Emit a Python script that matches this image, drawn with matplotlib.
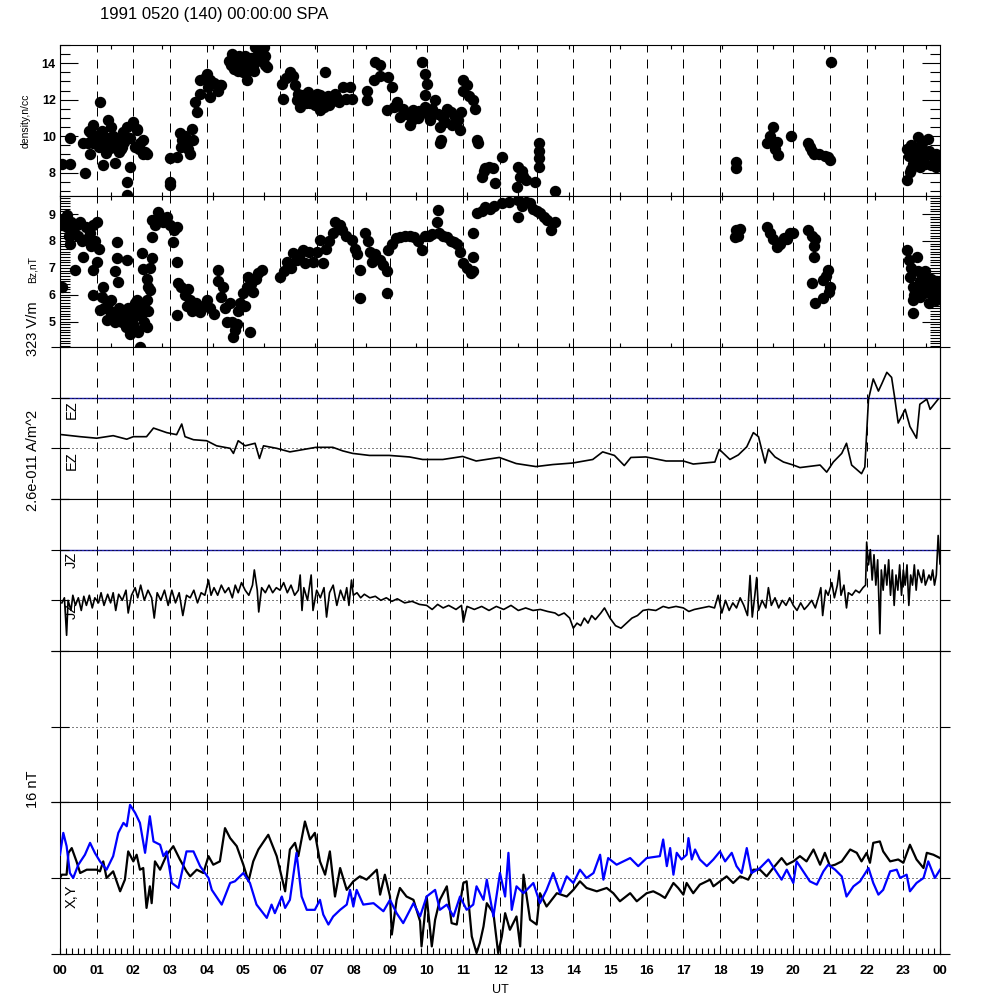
import numpy as np
import matplotlib.pyplot as plt
import matplotlib.transforms as mtransforms
from matplotlib.ticker import MultipleLocator, FixedLocator

plt.rcParams['font.family'] = ['Liberation Sans', 'DejaVu Sans']

# density, n/cc  (UT hours, value)
dens_t = [0.05, 0.27, 0.27, 0.64, 0.68, 0.82, 0.91, 1.09, 0.77, 0.85, 0.95, 1.0, 1.05, 1.1,
          1.15, 1.2, 1.25, 1.32, 1.3, 1.4, 1.45, 1.5, 1.18, 1.55, 1.6, 1.65, 1.73, 1.75,
          1.82, 1.82, 1.91, 1.82, 1.91, 2.0, 2.09, 2.05, 2.1, 2.18, 2.32, 2.27, 2.36, 1.36,
          0.8, 0.9, 1.02, 1.15, 1.35, 1.45, 1.6, 1.7, 2.15, 2.25,
          3.0, 3.0, 3.0, 3.18, 3.27, 3.32, 3.45, 3.59, 3.55, 3.64, 3.73, 3.68, 3.82, 3.82,
          3.3, 3.4, 3.5, 3.95, 4.05, 4.2, 4.3,
          4.0, 4.1, 4.1, 4.36, 4.4, 4.65, 4.73, 4.75, 4.8, 4.85, 4.9, 4.95, 5.0, 5.09, 5.09,
          5.15, 5.2, 5.27, 5.32, 5.4, 5.45, 5.55, 5.6,
          4.62, 4.7, 4.78, 4.88, 4.98, 5.05, 5.12, 5.22, 5.3, 5.38, 5.48, 5.58, 5.65,
          6.05, 6.09, 6.15, 6.27, 6.35, 6.41, 6.45, 6.55, 6.6, 6.64, 6.7, 6.8, 6.82, 6.9,
          7.0, 7.09, 7.09, 7.15, 7.2, 7.23, 7.3, 7.4, 7.45, 7.5,
          6.5, 6.75, 6.95, 7.05, 7.35, 7.55, 7.6,
          7.73, 7.9, 7.8, 7.95, 8.36, 8.36,
          8.55, 8.59, 8.73, 8.73, 8.95, 9.05, 8.91, 9.18, 9.27, 9.1, 9.35,
          9.45, 9.55, 9.64, 9.75, 9.86, 9.95, 10.05, 10.09, 10.23, 10.3, 10.36, 10.45, 10.55,
          10.65, 10.77, 10.9, 10.95, 10.85, 9.86, 9.95, 10.0, 9.95, 10.36, 10.4,
          9.6, 9.8, 10.15, 10.5, 10.7,
          11.0, 11.0, 11.1, 11.15, 11.27, 11.32, 11.36, 11.4,
          11.5, 11.55, 11.59, 11.7, 11.82, 11.86, 12.05, 12.45, 12.5, 12.55, 12.64, 12.6,
          12.7, 12.95, 13.05, 13.05, 13.05, 13.07, 13.5,
          18.45, 18.45, 19.27, 19.35, 19.45, 19.55, 19.59, 19.5, 19.95, 20.4, 20.45, 20.5,
          20.55, 20.7, 20.85, 20.95, 21.0, 21.02,
          23.1, 23.18, 23.41, 23.68, 23.1, 23.15, 23.2, 23.3, 23.35, 23.4, 23.5, 23.55, 23.6,
          23.65, 23.75, 23.8, 23.85, 23.9, 23.95, 24.0, 23.25, 23.45,
          23.2, 23.35, 23.5, 23.7, 23.9]
dens_v = [8.47, 9.88, 8.47, 9.6, 8.0, 9.05, 10.6, 11.87, 9.6, 10.15, 9.78, 9.96, 9.42, 10.1,
          10.3, 9.6, 9.1, 10.87, 9.9, 10.5, 9.4, 8.55, 8.42, 9.8, 9.14, 9.3, 10.24, 9.7,
          10.51, 7.5, 8.33, 6.8, 9.9, 10.78, 10.33, 9.4, 10.42, 9.6, 9.14, 9.8, 9.05, 9.33,
          10.3, 9.6, 10.0, 9.4, 9.6, 10.0, 9.9, 9.4, 9.3, 9.0,
          8.78, 7.5, 7.35, 8.87, 10.2, 9.78, 9.6, 10.4, 9.05, 9.8, 11.3, 11.87, 12.33, 13.06,
          9.4, 10.0, 9.3, 13.2, 12.7, 12.9, 12.5,
          13.42, 13.06, 12.14, 12.78, 12.78, 13.9, 14.33, 13.7, 13.9, 13.6, 14.2, 13.8, 13.5,
          13.6, 13.06, 14.0, 13.7, 13.8, 14.87, 14.5, 14.2, 14.9, 13.9,
          14.1, 14.5, 14.0, 14.4, 14.1, 14.4, 13.8, 14.3, 13.6, 14.1, 14.6, 14.4, 13.8,
          12.87, 12.05, 13.2, 13.5, 13.3, 12.78, 12.0, 11.6, 12.2, 12.24, 11.8, 11.9, 11.8,
          12.1, 12.3, 11.42, 12.24, 12.0, 11.6, 13.5, 12.2, 11.9, 12.0, 12.3,
          12.3, 12.4, 11.7, 12.0, 11.7, 12.1, 11.9,
          12.7, 12.69, 12.05, 12.05, 12.5, 12.0,
          13.1, 14.05, 13.9, 13.3, 13.24, 12.7, 11.42, 11.87, 11.05, 11.6, 11.5,
          11.2, 10.6, 11.42, 11.0, 11.3, 11.6, 11.1, 10.87, 11.96, 11.2, 10.5, 11.0, 11.5,
          11.3, 11.05, 10.33, 11.33, 10.9, 14.05, 13.42, 12.87, 12.24, 9.6, 9.8,
          10.9, 11.4, 11.5, 10.8, 10.6,
          13.06, 12.5, 12.8, 12.2, 11.96, 11.5, 9.78, 9.6,
          7.78, 8.1, 8.24, 8.3, 8.24, 7.42, 8.87, 7.24, 8.33, 7.78, 7.8, 8.1,
          7.6, 7.5, 8.33, 8.8, 9.2, 9.6, 7.0,
          8.6, 8.24, 9.6, 10.0, 10.5, 9.7, 8.96, 9.3, 10.0, 9.6, 9.42, 9.2,
          9.05, 9.0, 8.9, 8.87, 8.7, 14.07,
          7.6, 8.05, 9.96, 9.87, 9.3, 8.9, 9.5, 9.1, 8.6, 9.4, 8.8, 9.2, 8.5,
          9.0, 8.4, 8.9, 8.6, 8.3, 8.7, 8.5, 8.5, 8.3,
          8.2, 9.2, 9.6, 9.2, 9.0]

# Bz, nT
bz_t = [0.05, 0.05, 0.1, 0.18, 0.2, 0.25, 0.27, 0.3, 0.35, 0.41, 0.45, 0.5, 0.55, 0.6, 0.64,
        0.7, 0.75, 0.82, 0.85, 0.9, 0.91, 0.95, 1.0, 1.0, 1.05,
        0.91, 1.09, 1.18, 1.15, 1.2, 1.27, 1.35, 1.4, 1.45, 1.55, 1.6, 1.7, 1.75, 1.8, 1.85,
        1.91, 1.95, 2.0, 2.05, 2.09, 2.09, 2.14, 2.18, 2.2, 2.25, 2.3, 2.36, 2.36, 2.4, 2.45,
        1.3, 1.5, 1.65, 1.9, 2.0, 2.15, 2.3,
        1.55, 1.55, 1.5, 1.59, 1.82, 2.23, 2.5, 2.27, 2.36, 2.45, 2.4,
        2.5, 2.5, 2.6, 2.68, 2.75, 2.8, 2.91, 3.0, 3.09, 3.1, 3.18, 3.18,
        3.23, 3.18, 3.3, 3.4, 3.5, 3.45, 3.55, 3.6, 3.7, 3.82, 3.9, 4.0, 4.1, 4.2, 4.32, 4.3,
        4.4, 4.45, 4.5, 4.55,
        4.64, 4.7, 4.73, 4.78, 4.82, 4.85, 4.9, 5.0, 5.05, 5.1, 5.14, 5.18, 5.2, 5.27, 5.35,
        5.4, 5.5,
        6.0, 6.1, 6.2, 6.3, 6.36, 6.45, 6.55, 6.64, 6.68, 6.8, 6.91, 7.0, 7.09, 7.18, 7.25,
        7.35, 7.45,
        7.5, 7.6, 7.64, 7.7, 7.8, 7.95, 8.05, 8.1, 8.18, 8.18, 8.32, 8.4, 8.45, 8.5, 8.6,
        8.73, 8.8, 8.91, 8.91, 8.95, 9.05, 9.15,
        9.27, 9.4, 9.55, 9.65, 9.75, 9.86, 9.95, 10.05, 10.14, 10.27, 10.32, 10.35, 10.45,
        10.55, 10.65, 10.75, 10.82, 10.9, 11.0, 11.1, 11.2, 11.27, 11.27, 11.27,
        11.36, 11.5, 11.6, 11.73, 11.85, 12.05, 12.25, 12.5, 12.5, 12.6, 12.7, 12.82, 12.9,
        13.0, 13.09, 13.2, 13.27, 13.4, 13.5,
        18.41, 18.45, 18.5, 18.55, 19.27, 19.35, 19.45, 19.55, 19.65, 19.75, 19.82, 19.9,
        20.0, 20.41, 20.5, 20.59, 20.55, 20.55, 20.5, 20.59, 20.82, 20.82, 20.9, 20.95, 21.0,
        20.98,
        23.09, 23.15, 23.2, 23.18, 23.25, 23.27, 23.27, 23.36, 23.4, 23.45, 23.5, 23.55,
        23.59, 23.65, 23.7, 23.75, 23.8, 23.85, 23.9, 23.95, 24.0, 23.6, 23.3,
        23.45, 23.7, 23.9, 24.0, 23.55]
bz_v = [6.3, 8.6, 8.8, 8.96, 8.5, 8.2, 7.9, 8.7, 8.4, 6.92, 8.6, 8.2, 8.7, 8.0, 7.4,
        8.5, 8.1, 8.3, 7.8, 8.6, 6.92, 8.0, 8.7, 7.2, 7.7,
        6.0, 5.43, 6.3, 5.9, 5.5, 5.06, 5.4, 5.8, 5.2, 5.2, 5.5, 5.0, 5.3, 4.8, 5.5,
        4.56, 5.1, 5.3, 5.7, 4.7, 5.8, 4.6, 4.07, 5.2, 5.5, 5.0, 4.81, 5.8, 5.4, 6.17,
        5.7, 5.0, 5.4, 5.3, 4.9, 5.5, 5.6,
        7.97, 7.35, 6.9, 6.48, 7.29, 7.54, 7.35, 6.96, 6.6, 7.0, 6.3,
        8.78, 8.16, 8.6, 9.08, 8.9, 8.7, 8.9, 8.6, 7.97, 8.4, 8.53, 7.23,
        6.42, 5.25, 6.3, 6.0, 6.2, 5.6, 5.8, 5.4, 5.7, 5.37, 5.6, 5.8, 5.5, 5.3, 6.92, 6.5,
        5.9, 6.3, 5.5, 5.0,
        5.68, 5.0, 4.44, 4.7, 4.9, 5.4, 5.7, 6.05, 5.6, 6.3, 6.67, 4.62, 6.4, 6.1, 6.6,
        6.8, 6.92,
        6.67, 6.9, 7.2, 7.0, 7.54, 7.3, 7.5, 7.66, 7.17, 7.6, 7.2, 7.6, 8.03, 7.17, 7.7,
        8.0, 8.3,
        8.7, 8.6, 8.6, 8.4, 8.2, 8.03, 7.7, 7.5, 6.92, 5.87, 8.28, 8.0, 7.6, 7.2, 7.5,
        7.29, 7.1, 6.9, 6.05, 7.66, 7.9, 8.1,
        8.16, 8.2, 8.2, 8.15, 8.0, 7.66, 8.18, 8.2, 8.25, 8.7, 9.15, 8.3, 8.2,
        8.15, 8.0, 7.95, 7.9, 7.6, 7.17, 7.0, 6.8, 6.9, 7.4, 8.28,
        9.02, 9.1, 9.25, 9.2, 9.3, 9.4, 9.45, 9.52, 8.9, 9.3, 9.45, 9.4, 9.2,
        9.1, 9.03, 8.9, 8.78, 8.4, 8.7,
        8.16, 8.4, 8.2, 8.45, 8.53, 8.3, 8.06, 7.78, 7.9, 8.1, 8.06, 8.3,
        8.28, 8.4, 8.2, 8.06, 7.8, 7.41, 6.45, 5.68, 5.87, 6.56, 6.7, 6.92, 6.3,
        6.1,
        7.66, 7.3, 7.0, 6.67, 6.3, 5.8, 5.33, 7.41, 6.9, 6.5, 6.2, 6.05,
        6.9, 6.4, 6.1, 6.6, 6.0, 6.3, 6.5, 6.1, 6.4, 6.7, 6.0,
        5.9, 5.7, 5.8, 6.1, 6.4]

# EZ, in units of 323 V/m (0 = dotted line, 1 = blue line)
ez_t = [0.05, 0.55, 1.0, 1.45, 1.82, 2.0, 2.36, 2.55, 2.91, 3.18, 3.32, 3.41, 3.64, 4.0,
        4.27, 4.64, 4.73, 4.86, 5.05, 5.32, 5.44, 5.55, 5.91, 6.27, 6.98, 7.44, 7.71, 7.98,
        8.44, 8.98, 9.53, 9.89, 10.44, 10.98, 11.35, 11.98, 12.44, 12.98, 13.44, 13.98,
        14.53, 14.8, 15.12, 15.39, 15.57, 15.98, 16.53, 17.0, 17.27, 17.86, 17.98, 18.14,
        18.27, 18.5, 18.73, 18.91, 19.05, 19.23, 19.32, 19.5, 19.73, 20.0, 20.18, 20.73,
        20.91, 21.09, 21.32, 21.45, 21.59, 21.86, 21.95, 22.05, 22.18, 22.32, 22.41, 22.55,
        22.68, 22.77, 22.86, 23.05, 23.18, 23.36, 23.45, 23.64, 23.73, 23.95]
ez_v = [0.27, 0.23, 0.2, 0.25, 0.18, 0.23, 0.23, 0.4, 0.31, 0.27, 0.48, 0.23, 0.17, 0.15,
        0.05, 0.0, -0.1, 0.15, 0.05, 0.1, -0.2, 0.05, 0.0, -0.07, 0.02, 0.02, -0.05, -0.1,
        -0.14, -0.14, -0.17, -0.22, -0.22, -0.16, -0.25, -0.18, -0.3, -0.36, -0.32, -0.29,
        -0.22, -0.07, -0.14, -0.34, -0.18, -0.17, -0.25, -0.25, -0.31, -0.27, -0.02, -0.13,
        -0.22, -0.13, 0.03, 0.31, 0.23, -0.29, -0.02, -0.17, -0.27, -0.33, -0.38, -0.33,
        -0.47, -0.27, -0.1, 0.1, -0.33, -0.5, -0.37, 0.97, 1.37, 1.13, 1.27, 1.5,
        1.4, 0.97, 0.5, 0.77, 0.43, 0.2, 0.87, 0.97, 0.77, 0.97]

# JZ, in units of 2.6e-011 A/m^2
jz_t = [0.05, 0.12, 0.18, 0.22, 0.3, 0.35, 0.42, 0.5, 0.58, 0.65, 0.72, 0.8, 0.88, 0.95,
        1.05, 1.12, 1.2, 1.3, 1.38, 1.45, 1.52, 1.6, 1.7, 1.8, 1.86, 1.95, 2.05, 2.12, 2.2,
        2.3, 2.4, 2.5, 2.57, 2.65, 2.75, 2.85, 2.95, 3.05, 3.15, 3.25, 3.35, 3.45, 3.55,
        3.65, 3.75, 3.85, 3.95, 4.05, 4.12, 4.2, 4.3, 4.4, 4.5, 4.6, 4.7, 4.78, 4.86, 4.95,
        5.05, 5.15, 5.25, 5.3, 5.38, 5.42, 5.5, 5.6, 5.7, 5.8, 5.9, 6.0, 6.1, 6.2, 6.3, 6.4,
        6.5, 6.55, 6.6, 6.65, 6.75, 6.85, 6.9, 7.0, 7.1, 7.2, 7.27, 7.35, 7.45, 7.55, 7.65,
        7.75, 7.82, 7.88, 7.95, 8.0, 8.1, 8.2, 8.3, 8.45, 8.6, 8.75, 8.9, 9.05, 9.2, 9.4,
        9.6, 9.8, 10.0, 10.15, 10.3, 10.45, 10.6, 10.8, 10.95, 11.0, 11.1, 11.3, 11.5, 11.7,
        11.9, 12.1, 12.3, 12.5, 12.7, 12.9, 13.1, 13.3, 13.5, 13.6, 13.75, 13.9, 14.0, 14.1,
        14.2, 14.3, 14.4, 14.5, 14.6, 14.75, 14.85, 15.0, 15.15, 15.3, 15.45, 15.6, 15.75,
        15.9, 16.05, 16.25, 16.45, 16.6, 16.8, 17.0, 17.15, 17.3, 17.5, 17.7, 17.85, 17.95,
        18.05, 18.15, 18.25, 18.35, 18.45, 18.55, 18.65, 18.75, 18.82, 18.88, 18.95, 19.0,
        19.05, 19.15, 19.25, 19.32, 19.4, 19.5, 19.6, 19.7, 19.8, 19.9, 20.0, 20.1, 20.2,
        20.3, 20.4, 20.5, 20.6, 20.7, 20.75, 20.8, 20.88, 20.95, 21.05, 21.12, 21.2, 21.25,
        21.3, 21.38, 21.45, 21.5, 21.6, 21.7, 21.8, 21.9, 21.97, 22.0, 22.05, 22.1, 22.15,
        22.2, 22.25, 22.3, 22.36, 22.4, 22.45, 22.5, 22.55, 22.6, 22.65, 22.7, 22.75, 22.8,
        22.85, 22.9, 22.95, 23.0, 23.05, 23.1, 23.15, 23.2, 23.25, 23.3, 23.35, 23.4, 23.5,
        23.55, 23.6, 23.7, 23.75, 23.8, 23.85, 23.9, 23.95, 24.0]
jz_v = [-0.05, 0.05, -0.69, 0.0, -0.2, 0.1, -0.1, 0.05, -0.2, 0.08, -0.1, 0.1, -0.15, 0.05,
        -0.05, 0.15, -0.1, 0.12, -0.05, 0.15, -0.2, 0.12, 0.0, 0.2, -0.25, 0.1, 0.25, 0.05, 0.3,
        0.0, 0.2, 0.05, -0.35, 0.15, 0.0, 0.2, -0.1, 0.2, -0.05, 0.15, -0.3, 0.1, 0.05,
        0.2, -0.05, 0.15, 0.1, 0.4, 0.1, 0.25, 0.1, 0.3, 0.15, 0.25, 0.05, 0.3, 0.15, 0.35,
        0.2, 0.1, 0.3, 0.6, 0.2, -0.23, 0.25, 0.15, 0.3, 0.15, 0.25, 0.2, 0.35, 0.15, 0.3, 0.1,
        0.2, 0.5, -0.2, 0.25, 0.0, 0.5, -0.2, 0.2, 0.05, 0.25, -0.33, 0.15, 0.3, -0.1, 0.2,
        0.0, 0.25, -0.1, 0.4, 0.1, 0.15, 0.05, 0.12, 0.05, 0.08, 0.0, 0.05, -0.02, 0.03, -0.05,
        -0.02, -0.08, -0.1, -0.18, -0.08, -0.15, -0.1, -0.18, -0.1, -0.43, -0.12, -0.18, -0.12, -0.2,
        -0.12, -0.18, -0.1, -0.2, -0.15, -0.2, -0.18, -0.22, -0.25, -0.3, -0.25, -0.35, -0.55, -0.45,
        -0.5, -0.35, -0.45, -0.3, -0.38, -0.25, -0.15, -0.35, -0.5, -0.55, -0.45, -0.35, -0.3,
        -0.2, -0.18, -0.2, -0.12, -0.15, -0.12, -0.15, -0.22, -0.18, -0.15, -0.12, -0.15, 0.1,
        -0.25, 0.0, -0.2, -0.05, -0.15, 0.05, -0.1, -0.3, 0.49, -0.33, 0.1, 0.45,
        -0.2, 0.0, -0.15, 0.25, -0.1, 0.05, -0.15, 0.0, -0.1, 0.05, -0.1, -0.2, -0.05,
        -0.18, -0.1, 0.0, -0.15, 0.1, 0.25, -0.3, 0.2, 0.1, 0.35, 0.05, 0.3, 0.59,
        0.1, 0.3, -0.15, 0.15, 0.1, 0.2, 0.15, 0.25, 0.3, 1.15, 0.7, 1.0, 0.4,
        0.9, 0.3, 0.8, -0.66, 0.6, 0.2, 0.7, 0.3, 0.8, 0.1, 0.6, -0.1, 0.5,
        0.2, 0.7, 0.1, 0.6, 0.3, 0.7, -0.1, 0.5, 0.3, 0.7, 0.2, 0.6, 0.35,
        0.6, 0.3, 0.5, 0.4, 0.6, 0.3, 0.5, 1.28, 0.72]

# X component, nT (black)
bx_t = [0.0, 0.05, 0.18, 0.23, 0.32, 0.45, 0.55, 0.73, 1.0, 1.09, 1.18, 1.27, 1.45, 1.64,
        1.77, 1.86, 2.0, 2.09, 2.18, 2.27, 2.36, 2.45, 2.5, 2.59, 2.73, 2.91, 3.09, 3.27,
        3.45, 3.55, 3.73, 3.91, 4.05, 4.18, 4.36, 4.5, 4.64, 4.82, 5.0, 5.14, 5.27, 5.41,
        5.68, 5.91, 6.14, 6.27, 6.41, 6.5, 6.68, 6.82, 6.95, 7.09, 7.23, 7.36, 7.5, 7.64,
        7.82, 8.0, 8.18, 8.36, 8.64, 8.73, 8.86, 9.0, 9.05, 9.18, 9.27, 9.45, 9.64, 9.82,
        9.86, 10.0, 10.14, 10.23, 10.36, 10.55, 10.68, 10.82, 11.0, 11.09, 11.23, 11.36,
        11.45, 11.55, 11.64, 11.82, 11.95, 12.05, 12.14, 12.27, 12.45, 12.55, 12.64, 12.82,
        13.0, 13.09, 13.27, 13.55, 13.82, 14.0, 14.18, 14.36, 14.64, 14.91, 15.09, 15.27,
        15.55, 15.73, 16.0, 16.18, 16.36, 16.5, 16.73, 16.86, 17.0, 17.09, 17.27, 17.45,
        17.73, 17.82, 18.0, 18.18, 18.36, 18.55, 18.77, 18.91, 19.09, 19.27, 19.45, 19.68,
        19.82, 20.0, 20.18, 20.36, 20.55, 20.73, 20.86, 21.0, 21.14, 21.32, 21.55, 21.73,
        21.86, 22.0, 22.09, 22.18, 22.36, 22.45, 22.64, 22.86, 23.0, 23.18, 23.36, 23.55,
        23.64, 23.82, 24.0]
bx_v = [0.0, 0.7, 0.7, 5.3, 6.3, 3.5, 1.05, 1.75, 1.75, 1.4, 3.5, 0.0, 1.4, -2.8,
        -0.35, 5.6, 3.5, 4.9, 1.75, 2.1, -6.3, -1.75, -5.3, 3.5, 1.75, 4.9, 6.7, 3.9,
        1.4, 0.35, 1.75, 1.05, 4.6, 2.8, 3.5, 10.5, 8.4, 6.7, 2.8, -0.7, 3.5, 6.0,
        9.1, 4.6, -2.8, 6.0, 7.4, 4.6, 11.9, 8.1, 9.5, 3.5, 0.7, 5.6, -3.9, 2.1,
        -2.5, -0.7, 0.35, -0.35, 1.75, -3.5, 0.7, -3.9, -11.9, -4.6, -2.1, -3.9, -4.6, -9.1,
        -14.4, -3.9, -14.4, -8.8, -4.6, -1.75, -9.5, -9.8, -1.05, -0.7, -12.3, -15.8,
        -13.7, -10.2, -5.3, -7.4, -15.8, -12.3, -7.4, -10.9, -8.1, -14.4, 0.7, -8.8,
        -9.8, -3.2, -6.0, -3.2, -3.9, -2.5, -0.7, -2.1, -2.8, -2.1, -3.2, -4.9,
        -3.2, -4.9, -3.2, -2.8, -3.5, -4.2, -1.05, -2.1, -3.5, -1.05, -3.2, -1.4,
        -0.35, -1.75, -0.7, 0.35, -1.05, 0.35, -0.35, 1.75, 1.75, 0.35, 2.1, 4.2,
        2.8, 3.5, 4.6, 3.5, 6.0, 2.8, 5.3, 2.5, 2.8, 3.5, 6.0, 5.3,
        3.5, 5.3, 3.2, 7.4, 7.7, 5.6, 3.5, 3.9, 3.2, 7.0, 3.9, 2.1,
        5.3, 4.9, 4.2]

# Y component, nT (blue)
by_t = [0.0, 0.09, 0.18, 0.27, 0.36, 0.5, 0.68, 0.82, 0.95, 1.09, 1.27, 1.45, 1.59, 1.73,
        1.82, 1.91, 2.05, 2.18, 2.32, 2.45, 2.55, 2.73, 2.82, 2.91, 3.05, 3.23, 3.36, 3.45,
        3.64, 3.82, 4.05, 4.14, 4.41, 4.64, 4.77, 5.0, 5.18, 5.36, 5.64, 5.77, 5.86, 6.05,
        6.14, 6.27, 6.45, 6.59, 6.73, 6.95, 7.09, 7.18, 7.32, 7.45, 7.64, 7.82, 7.91, 8.0,
        8.09, 8.27, 8.55, 8.82, 9.0, 9.18, 9.36, 9.64, 9.82, 10.0, 10.23, 10.36, 10.55,
        10.73, 10.91, 11.09, 11.27, 11.36, 11.55, 11.64, 11.82, 12.0, 12.14, 12.23, 12.32,
        12.45, 12.64, 12.91, 13.09, 13.27, 13.45, 13.64, 13.82, 14.0, 14.18, 14.36, 14.55,
        14.73, 14.82, 14.95, 15.18, 15.55, 15.77, 16.0, 16.36, 16.45, 16.55, 16.64, 16.73,
        16.82, 16.95, 17.09, 17.14, 17.23, 17.32, 17.45, 17.64, 17.82, 18.0, 18.14, 18.32,
        18.45, 18.59, 18.73, 18.86, 19.09, 19.32, 19.5, 19.68, 19.82, 20.0, 20.09, 20.27,
        20.45, 20.64, 20.82, 20.95, 21.14, 21.32, 21.45, 21.64, 21.82, 22.05, 22.18, 22.32,
        22.45, 22.64, 22.82, 22.91, 23.09, 23.18, 23.36, 23.55, 23.68, 23.86, 24.0]
by_v = [4.9, 9.5, 6.7, 1.05, 0.0, 2.8, 4.9, 7.4, 5.3, 3.5, 1.75, 4.6, 9.5, 11.6,
        10.9, 15.4, 13.7, 11.6, 5.3, 13.0, 7.7, 7.0, 4.6, 5.6, -1.05, -2.1, 2.5, 5.6,
        5.6, 2.5, 0.0, -2.5, -5.6, -1.05, -0.7, 1.05, -1.05, -5.6, -8.4, -5.6, -7.4, -3.9,
        -6.3, -4.6, 5.3, -3.9, -6.7, -6.7, -4.6, -7.7, -9.8, -8.1, -6.7, -5.6, -2.5, -6.0,
        -2.5, -5.6, -5.3, -7.0, -4.6, -7.4, -9.5, -5.3, -8.1, -3.9, -2.5, -6.7, -5.6,
        -8.1, -3.9, -6.7, -5.6, -1.75, -4.6, -0.35, -8.1, 1.05, -3.9, 5.3, -6.7,
        -1.75, -3.2, -1.05, -5.3, -2.5, 1.05, -3.2, 0.35, -1.05, 1.75, 0.0, 1.05,
        4.9, -0.35, 4.2, 2.8, 4.2, 2.5, 4.2, 4.6, 8.1, 2.5, 6.3, 0.7,
        5.3, 3.9, 4.9, 8.4, 3.9, 6.0, 3.9, 2.5, 3.9, 5.6, 3.5, 5.3,
        2.5, 1.05, 6.3, 1.05, 2.1, 3.9, 1.75, -0.35, 1.75, -1.05, 3.5, 1.4,
        -0.7, -1.4, 1.4, 2.8, 1.75, 0.35, -3.9, -1.75, -0.7, 2.1, -1.05, -3.5,
        -2.5, 1.4, 1.75, 0.0, 0.7, -2.8, -1.05, 0.0, 3.5, 0.0, 1.75]

hour_labels = ['%02d' % (h % 24) for h in range(25)]

fig = plt.figure(figsize=(10, 10), dpi=100)
edges = [45, 196, 347, 499, 651, 802, 954]
axs = []
for i in range(6):
    bottom = 1 - edges[i + 1] / 1000
    height = (edges[i + 1] - edges[i]) / 1000
    ax = fig.add_axes([0.06, bottom, 0.88, height])
    ax.set_xlim(0, 24)
    for s in ax.spines.values():
        s.set_linewidth(0.8)
    for h in range(1, 24):
        ax.axvline(h, color='k', lw=0.72, dashes=(9, 7), zorder=1)
    axs.append(ax)

sec_ticks = np.arange(0, 24.01, 5000 / 3600)

# density panel
ax = axs[0]
ax.plot(dens_t, dens_v, 'o', ms=7.2, color='k', zorder=3)
ax.set_ylim(6.72, 15.0)
ax.set_yticks([8, 10, 12, 14])
ax.yaxis.set_minor_locator(MultipleLocator(0.5))

# Bz panel
ax = axs[1]
ax.plot(bz_t, bz_v, 'o', ms=7.2, color='k', zorder=3)
ax.set_ylim(4.06, 9.67)
ax.set_yticks([5, 6, 7, 8, 9])
ax.yaxis.set_minor_locator(MultipleLocator(0.1))

for ax in axs[:2]:
    ax.set_xticks(sec_ticks)
    ax.tick_params(axis='x', which='major', direction='in', top=True, bottom=True,
                   length=3, width=0.8, labelbottom=False)
    ax.tick_params(axis='y', which='major', direction='in', left=True, right=True,
                   length=13, width=0.8, labelsize=9, pad=3)
    ax.tick_params(axis='y', which='minor', direction='in', left=True, right=True,
                   length=7, width=0.8)
    for lab in ax.get_yticklabels():
        lab.set_fontweight('bold')


def ref_axis(ax, ticks):
    ax.set_yticks(ticks)
    ax.set_yticklabels([])
    ax.tick_params(axis='y', which='major', left=True, right=False, direction='inout',
                   length=13, width=0.8)
    sec = ax.secondary_yaxis('right')
    sec.set_yticks(ticks)
    sec.set_yticklabels([])
    sec.tick_params(axis='y', direction='out', length=7, width=0.8)
    sec.spines['right'].set_linewidth(0.8)


def side_label(ax, yval, text):
    tr = mtransforms.blended_transform_factory(ax.transAxes, ax.transData)
    ax.text(0.0136, yval, text, transform=tr, rotation=90, ha='center', va='top',
            fontsize=10.5, zorder=2)


# EZ and JZ panels
for ax, t, v, name in [(axs[2], ez_t, ez_v, 'EZ'), (axs[3], jz_t, jz_v, 'JZ')]:
    ax.set_ylim(-1, 2)
    ax.axhline(1, color='#1c1ca8', lw=1.0, zorder=1)
    ax.axhline(1, color='k', lw=0.72, dashes=(1, 3), zorder=1)
    ax.axhline(0, color='k', lw=0.72, dashes=(1, 3), zorder=1)
    ax.plot(t, v, color='k', lw=1.2, zorder=3)
    ref_axis(ax, [-1, 0, 1, 2])
    side_label(ax, 0.95, name)
    side_label(ax, -0.05, name)
    ax.tick_params(axis='x', bottom=False, top=False, labelbottom=False)

# empty panel
ax = axs[4]
ax.set_ylim(-1, 1)
ax.axhline(0, color='k', lw=0.72, dashes=(1, 3), zorder=1)
ref_axis(ax, [-1, 0, 1])
ax.tick_params(axis='x', bottom=False, top=False, labelbottom=False)

# X, Y panel
ax = axs[5]
ax.set_ylim(-16, 16)
ax.axhline(0, color='k', lw=0.72, dashes=(1, 3), zorder=1)
ax.plot(bx_t, bx_v, color='k', lw=1.6, zorder=3)
ax.plot(by_t, by_v, color='#0000ff', lw=1.6, zorder=3)
ref_axis(ax, [-16, 0, 16])
side_label(ax, -1.4, 'X,Y')
ax.set_xticks(range(25))
ax.set_xticklabels(hour_labels, fontsize=9.5, fontweight='bold')
ax.xaxis.set_minor_locator(FixedLocator(np.arange(0, 24.01, 1 / 6)))
ax.tick_params(axis='x', which='both', direction='in', bottom=True, top=False,
               length=4, width=0.8, pad=8)

fig.text(0.10, 0.985, '1991 0520 (140) 00:00:00 SPA', fontsize=12, ha='left', va='center')
fig.text(0.026, 0.879, 'density,n/cc', fontsize=7.5, rotation=90, ha='center', va='center')
fig.text(0.033, 0.73, 'Bz,nT', fontsize=7.5, rotation=90, ha='center', va='center')
fig.text(0.033, 0.671, '323 V/m', fontsize=10.5, rotation=90, ha='center', va='center')
fig.text(0.033, 0.54, '2.6e-011 A/m^2', fontsize=10.5, rotation=90, ha='center', va='center')
fig.text(0.033, 0.211, '16 nT', fontsize=10.5, rotation=90, ha='center', va='center')
fig.text(0.5, 0.01, 'UT', fontsize=9, ha='center', va='center')

fig.savefig('out.png', dpi=100)
